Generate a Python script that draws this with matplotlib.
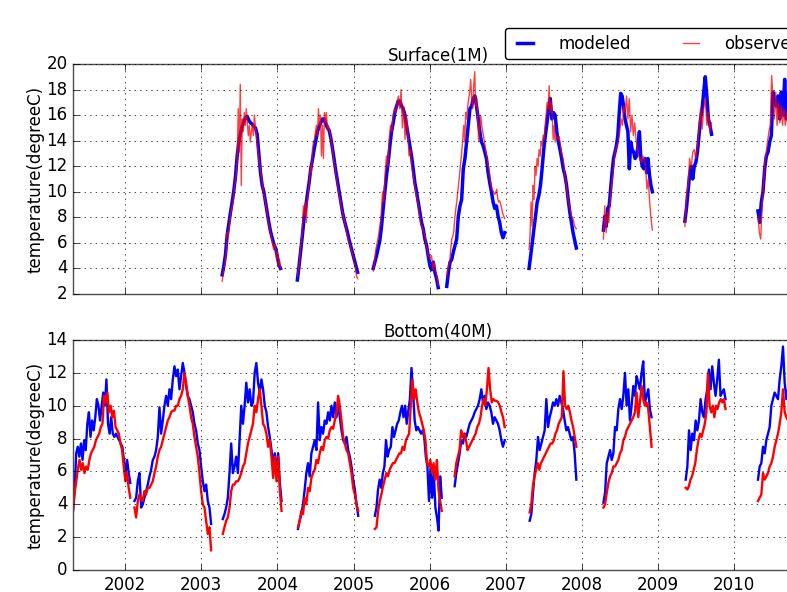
import matplotlib
matplotlib.use('Agg')
import matplotlib.pyplot as plt
import matplotlib.dates as mdates
import pandas as pd

plt.style.use('classic')
plt.rcParams['figure.facecolor'] = 'white'
plt.rcParams['savefig.facecolor'] = 'white'
plt.rcParams['font.family'] = ['DejaVu Sans']

# --- data: one (start, end) period and one value list per season ---
surface_periods = [
    ('2003-04-11', '2004-01-16'), ('2004-04-06', '2005-01-20'),
    ('2005-04-05', '2006-02-11'), ('2006-03-24', '2006-12-27'),
    ('2007-04-23', '2007-12-06'), ('2008-04-14', '2008-12-05'),
    ('2009-05-10', '2009-09-15'), ('2010-04-26', '2010-11-28'),
]
surface_modeled = [
    [3.5, 4.2, 5.1, 6.6, 7.5, 8.4, 9.2, 10.1, 11.2, 12.8, 13.9, 14.6, 15.1, 15.5, 15.8, 15.9, 15.6, 15.4,
     15.3, 15.1, 15.0, 14.5, 13.0, 11.5, 10.5, 10.0, 9.2, 8.4, 7.6, 6.9, 6.4, 5.9, 5.6, 5.0, 4.3, 4.0],
    [3.1, 4.2, 5.4, 6.6, 7.9, 8.8, 9.8, 10.7, 11.8, 12.5, 13.3, 14.0, 14.7, 15.1, 15.4, 15.7, 15.7, 15.3,
     15.0, 14.8, 14.2, 13.4, 12.5, 11.6, 10.8, 10.0, 9.2, 8.4, 7.8, 7.3, 6.8, 6.2, 5.7, 5.2, 4.7, 4.2, 3.7],
    [4.0, 4.5, 5.0, 5.6, 6.2, 7.3, 8.7, 10.0, 11.3, 12.3, 13.6, 14.7, 15.4, 16.2, 16.7, 17.1, 17.1, 16.7,
     16.5, 16.0, 15.2, 14.4, 13.6, 12.8, 11.8, 10.7, 10.0, 9.2, 8.4, 7.6, 7.1, 6.3, 5.8, 5.0, 4.2, 3.9,
     4.5, 3.7, 3.2, 2.5],
    [2.6, 3.7, 4.5, 4.7, 5.3, 5.8, 6.3, 8.1, 8.9, 9.4, 11.8, 12.6, 13.9, 15.2, 16.5, 16.7, 17.3, 17.5,
     16.7, 15.7, 14.7, 13.9, 13.6, 13.1, 12.6, 11.5, 10.7, 10.0, 9.2, 8.7, 8.9, 8.1, 7.6, 6.8, 6.4, 6.8],
    [4.0, 5.0, 6.0, 7.1, 8.1, 9.2, 9.7, 10.5, 11.8, 13.3, 14.4, 15.4, 16.5, 17.3, 15.7, 16.2, 16.0, 14.7,
     13.9, 13.3, 12.6, 11.8, 11.3, 10.5, 9.4, 8.4, 7.6, 6.8, 6.2, 5.6],
    [7.0, 8.1, 7.3, 8.7, 8.9, 10.2, 11.5, 12.6, 13.1, 13.6, 14.4, 16.2, 17.7, 17.5, 16.7, 15.7, 15.2, 14.7,
     11.8, 13.9, 13.3, 13.1, 12.6, 12.8, 13.6, 14.7, 12.6, 12.0, 11.8, 12.6, 11.5, 12.6, 11.3, 10.5, 10.0],
    [7.7, 8.7, 10.0, 11.3, 12.0, 11.0, 12.0, 12.3, 13.1, 14.4, 15.7, 16.5, 17.8, 19.0, 17.5, 15.7, 15.2, 14.5],
    [8.5, 7.6, 9.2, 10.0, 11.8, 12.8, 13.1, 13.9, 14.4, 17.8, 17.0, 16.7, 17.5, 15.7, 17.8, 16.0, 18.8, 15.7,
     17.0, 16.2, 17.4, 16.5, 15.8, 16.4, 15.6, 15.2, 15.9, 15.0],
]
surface_observed = [
    [3.0, 3.6, 4.0, 4.6, 5.2, 6.8, 6.4, 7.3, 7.9, 8.5, 8.9, 9.3, 10.2, 10.8, 11.5, 12.6, 16.5, 13.1, 18.4,
     10.5, 15.7, 14.7, 16.2, 15.2, 16.5, 15.4, 14.4, 15.2, 13.9, 14.7, 15.2, 14.4, 16.0, 15.2, 14.4, 13.6,
     13.1, 12.3, 11.8, 11.3, 10.6, 10.0, 9.5, 9.2, 8.6, 8.2, 7.6, 7.2, 6.8, 6.4, 6.0, 5.5, 5.9, 5.6, 4.7,
     5.3, 4.2, 4.7, 4.0],
    [3.4, 3.9, 4.4, 5.5, 6.2, 7.3, 8.9, 8.1, 9.2, 7.6, 9.4, 10.2, 10.7, 12.0, 11.5, 13.3, 13.9, 14.1, 14.7,
     15.2, 14.4, 16.5, 15.2, 16.0, 12.8, 15.2, 12.6, 16.2, 15.4, 16.2, 14.9, 15.2, 14.7, 14.4, 13.9, 13.3,
     12.6, 12.1, 11.6, 11.0, 10.5, 10.0, 9.6, 9.1, 8.7, 8.4, 8.0, 7.7, 7.3, 6.8, 6.5, 6.2, 5.9, 5.6, 5.4,
     5.1, 4.9, 4.4, 4.0, 3.4, 3.2],
    [3.8, 4.5, 5.5, 6.0, 6.6, 7.3, 8.2, 10.0, 9.2, 11.5, 12.8, 12.0, 14.0, 15.2, 14.7, 16.0, 16.5, 16.2,
     17.0, 17.5, 16.5, 18.0, 15.0, 16.7, 14.1, 16.0, 14.9, 12.8, 13.3, 12.0, 11.3, 10.7, 10.0, 9.5, 8.9,
     8.1, 7.4, 7.2, 6.9, 6.5, 5.8, 5.4, 4.9, 4.8, 5.0, 3.9, 4.5, 3.8, 3.4, 2.7],
    [3.4, 3.9, 4.3, 4.6, 5.5, 6.3, 6.5, 6.9, 7.9, 8.6, 9.2, 10.0, 10.7, 11.5, 12.3, 13.1, 14.1, 15.2, 13.9,
     16.2, 15.7, 16.7, 17.3, 17.8, 18.8, 17.3, 16.5, 18.3, 19.4, 16.7, 17.3, 15.7, 13.9, 15.2, 16.0, 15.2,
     14.7, 14.3, 13.8, 13.3, 12.8, 12.3, 11.9, 11.3, 10.7, 10.2, 10.1, 10.0, 9.8, 9.9, 10.2, 9.5, 9.2, 9.3,
     9.0, 8.7, 8.3, 8.1, 7.9],
    [5.5, 6.6, 9.2, 7.3, 10.5, 9.4, 12.0, 11.3, 12.6, 12.0, 13.3, 12.8, 13.9, 13.6, 14.4, 14.1, 15.2, 16.0,
     17.0, 16.5, 18.3, 16.2, 17.0, 16.0, 14.1, 15.2, 13.9, 14.4, 14.2, 14.1, 14.3, 13.8, 13.1, 12.8, 12.5,
     11.7, 11.1, 10.5, 9.9, 9.3, 9.0, 8.6, 8.1, 8.0, 7.8, 7.4, 7.2, 7.1],
    [6.3, 8.9, 6.8, 8.4, 7.6, 9.4, 10.5, 11.3, 12.6, 13.3, 13.6, 13.9, 14.7, 15.7, 15.2, 16.7, 16.2, 17.5,
     15.7, 17.3, 14.7, 16.0, 14.4, 15.4, 14.1, 13.3, 12.8, 12.6, 12.3, 12.8, 12.6, 12.0, 10.2, 11.0, 9.2,
     7.9, 7.0],
    [7.3, 9.7, 10.5, 12.6, 11.8, 13.1, 13.3, 12.6, 13.6, 14.9, 16.5, 14.9, 16.5, 17.3, 15.2, 16.2, 14.7, 15.4],
    [8.1, 6.8, 6.3, 8.9, 10.5, 12.3, 13.1, 13.9, 14.7, 15.2, 19.1, 17.3, 15.7, 17.8, 15.2, 17.0, 15.4, 16.7,
     15.2, 16.5, 15.2, 16.0, 16.8, 15.6, 16.4, 17.2, 15.8, 16.5, 15.3, 16.0, 15.5, 16.2, 15.1, 15.7],
]

bottom_periods = [
    ('2001-04-25', '2002-01-25'), ('2002-02-14', '2003-02-17'),
    ('2003-04-14', '2004-01-21'), ('2004-04-09', '2005-01-23'),
    ('2005-04-13', '2006-02-28'), ('2006-05-01', '2006-12-27'),
    ('2007-04-26', '2007-12-06'), ('2008-04-14', '2008-12-01'),
    ('2009-05-14', '2009-11-21'), ('2010-04-26', '2010-11-28'),
]
bottom_modeled = [
    [3.6, 4.9, 7.1, 7.5, 6.9, 7.7, 6.7, 7.9, 7.3, 8.9, 9.6, 8.1, 9.1, 8.5, 9.3, 10.4, 10.0, 9.1, 10.0,
     10.8, 10.0, 11.6, 8.9, 8.3, 9.3, 8.3, 8.1, 8.3, 8.1, 7.9, 7.7, 7.5, 6.7, 5.9, 6.7, 5.9, 5.3],
    [4.2, 4.4, 5.4, 5.9, 3.8, 4.0, 4.4, 4.8, 5.2, 5.7, 6.1, 6.7, 6.9, 7.3, 8.1, 9.9, 8.3, 9.1, 10.0, 10.6,
     10.0, 11.0, 10.4, 11.6, 12.4, 11.8, 12.2, 11.0, 11.8, 12.6, 12.0, 11.2, 10.6, 10.4, 10.0, 9.6, 8.9,
     8.5, 7.7, 7.3, 6.3, 5.4, 4.8, 5.2, 4.2, 3.8, 2.8],
    [3.1, 3.4, 3.8, 4.4, 5.9, 7.7, 5.9, 6.3, 6.9, 5.9, 7.9, 10.0, 8.9, 10.0, 11.4, 10.2, 11.0, 10.0, 10.2,
     12.0, 12.6, 11.4, 10.8, 11.6, 11.0, 10.0, 9.6, 8.7, 8.1, 7.3, 6.5, 7.1, 5.9, 7.1, 5.3, 4.2],
    [2.5, 3.0, 3.4, 4.0, 4.9, 5.9, 6.5, 5.7, 7.1, 7.5, 7.9, 7.3, 10.2, 7.9, 8.7, 8.3, 9.1, 8.9, 9.6, 9.1,
     10.0, 9.3, 10.2, 9.3, 10.0, 9.3, 8.5, 7.9, 7.7, 8.1, 7.3, 6.9, 6.3, 5.5, 4.9, 4.0, 3.3],
    [3.3, 3.8, 4.9, 5.5, 5.0, 5.9, 6.3, 7.9, 6.9, 7.3, 7.5, 8.7, 8.1, 8.5, 8.9, 9.1, 9.6, 10.0, 9.3, 10.0,
     8.9, 9.7, 10.4, 12.3, 10.8, 9.1, 8.5, 8.7, 8.5, 8.3, 8.5, 8.1, 6.9, 6.3, 4.2, 6.3, 4.4, 5.9, 3.8, 3.2,
     2.4, 5.7, 4.4],
    [5.1, 5.9, 6.5, 7.1, 7.9, 7.7, 8.3, 8.1, 8.5, 8.9, 9.1, 9.3, 9.6, 9.8, 10.0, 10.4, 11.0, 10.2, 10.6,
     9.8, 10.2, 10.0, 9.6, 8.9, 9.3, 9.1, 8.9, 8.5, 7.9, 7.5, 7.9],
    [3.0, 3.4, 4.7, 5.9, 6.7, 8.1, 7.3, 7.7, 8.1, 8.5, 10.4, 8.7, 9.3, 9.7, 10.2, 10.0, 10.4, 10.0, 10.6,
     10.2, 9.8, 9.1, 8.5, 8.7, 8.3, 7.9, 8.1, 7.1, 5.5],
    [4.1, 4.7, 6.5, 6.9, 7.3, 6.7, 7.1, 8.7, 8.5, 9.8, 10.4, 9.8, 10.6, 12.0, 10.0, 11.0, 9.1, 10.0, 11.2,
     10.6, 11.8, 11.4, 11.0, 12.0, 12.7, 10.2, 10.6, 11.0, 9.8, 9.3],
    [5.5, 6.3, 8.5, 7.3, 8.3, 7.9, 9.1, 8.5, 9.1, 10.4, 9.6, 9.3, 10.4, 11.0, 12.2, 11.0, 12.4, 11.4, 10.6,
     11.6, 12.8, 10.6, 10.8, 11.0, 10.4],
    [5.5, 6.3, 6.5, 7.5, 7.1, 7.9, 8.3, 8.7, 10.0, 10.4, 10.8, 10.6, 10.4, 11.6, 12.4, 13.6, 11.4, 10.4,
     11.0, 10.8, 11.2, 10.6, 10.2, 9.8, 10.1, 9.6, 9.9, 9.4],
]
bottom_observed = [
    [3.6, 4.7, 5.4, 6.2, 6.7, 6.1, 6.5, 5.9, 6.3, 6.1, 6.7, 7.1, 7.3, 7.5, 7.9, 8.1, 8.3, 8.7, 8.9, 10.6,
     10.2, 10.8, 9.6, 10.0, 9.3, 9.7, 8.7, 8.5, 8.3, 7.7, 7.3, 6.3, 5.4, 5.9, 5.0, 4.4],
    [3.8, 3.2, 4.2, 4.6, 4.4, 4.2, 4.8, 4.6, 5.0, 5.0, 5.2, 5.4, 5.9, 6.3, 6.9, 7.3, 7.5, 7.9, 8.3, 8.7,
     9.1, 9.3, 9.6, 9.7, 9.7, 10.0, 10.0, 10.4, 10.6, 11.0, 12.0, 11.4, 10.6, 10.0, 9.3, 8.9, 8.1, 7.5,
     6.9, 5.9, 4.8, 4.0, 3.8, 3.0, 2.2, 2.6, 1.2],
    [2.2, 2.6, 3.0, 3.2, 3.8, 4.8, 5.2, 5.2, 5.4, 5.4, 5.6, 5.9, 6.3, 6.5, 7.1, 7.7, 8.1, 8.5, 8.9, 10.0,
     9.6, 10.4, 11.0, 10.0, 8.9, 8.7, 8.3, 7.5, 7.9, 6.9, 5.6, 6.9, 5.4, 6.9, 4.8, 3.6],
    [2.6, 3.0, 3.6, 3.4, 4.4, 4.0, 5.0, 4.8, 5.6, 5.9, 6.1, 6.7, 6.5, 7.1, 7.5, 7.3, 7.9, 8.1, 8.0, 8.5,
     8.7, 8.6, 9.1, 9.6, 10.6, 10.0, 9.1, 8.1, 7.7, 7.3, 7.1, 6.5, 5.9, 5.0, 4.6, 4.0, 3.6],
    [2.5, 2.6, 3.6, 4.2, 4.6, 5.1, 5.5, 5.9, 5.7, 6.1, 6.3, 6.5, 6.5, 6.7, 6.9, 7.1, 7.1, 7.5, 7.3, 7.9,
     8.1, 8.3, 10.0, 11.6, 10.4, 11.0, 10.2, 9.6, 9.3, 8.9, 8.5, 7.9, 6.5, 6.3, 6.7, 5.9, 6.5, 5.5, 6.7,
     4.9, 4.2, 3.6],
    [5.7, 6.5, 6.9, 7.3, 8.5, 8.1, 8.3, 7.9, 7.3, 7.5, 7.7, 7.9, 8.1, 8.3, 8.7, 8.9, 9.3, 10.0, 10.4, 10.0,
     11.0, 12.3, 11.0, 10.2, 10.4, 10.3, 10.3, 10.2, 10.0, 9.6, 9.3, 8.7],
    [3.5, 4.0, 5.1, 5.7, 6.1, 6.5, 6.1, 6.5, 6.7, 6.9, 7.1, 7.3, 7.5, 7.7, 7.7, 7.9, 8.3, 8.5, 8.9, 9.1,
     9.3, 12.1, 10.0, 9.8, 10.0, 9.6, 9.1, 8.7, 8.1, 7.5],
    [3.8, 4.0, 4.7, 5.3, 5.7, 5.9, 6.3, 6.3, 6.5, 6.7, 7.1, 7.3, 7.9, 8.1, 8.5, 8.7, 8.9, 9.1, 9.3, 9.6,
     10.8, 9.3, 10.2, 11.2, 10.4, 10.0, 10.2, 9.8, 8.7, 7.5],
    [5.0, 4.9, 5.1, 5.5, 5.7, 6.1, 6.5, 7.3, 7.9, 8.3, 8.1, 8.5, 8.9, 9.6, 12.0, 10.0, 9.6, 10.0, 9.3, 10.0,
     9.8, 10.2, 10.4, 10.2, 10.4, 9.8],
    [4.2, 4.4, 4.6, 5.9, 5.5, 5.7, 5.9, 6.3, 6.5, 6.9, 7.5, 7.9, 8.3, 8.9, 9.6, 11.0, 9.6, 9.3, 9.1, 9.3,
     9.0, 8.8, 8.6, 8.9, 8.5, 8.7, 8.4, 8.6],
]

x_start, x_end = '2001-04-25', '2010-11-28'


def draw_panel(ax, periods, modeled, observed, mod_kw, obs_kw):
    for i, ((start, end), mv, ov) in enumerate(zip(periods, modeled, observed)):
        ax.plot(pd.date_range(start, end, periods=len(mv)), mv,
                label='modeled' if i == 0 else None, **mod_kw)
        ax.plot(pd.date_range(start, end, periods=len(ov)), ov,
                label='observed' if i == 0 else None, **obs_kw)


W, H = 787, 592
fig = plt.figure(figsize=(W / 100, H / 100), dpi=100)
# right edge of the axes runs past the canvas, like the cropped original
ax1 = fig.add_axes([73 / W, 1 - 294 / H, 730 / W, 230 / H])
ax2 = fig.add_axes([73 / W, 1 - 570 / H, 730 / W, 230 / H], sharex=ax1)

draw_panel(ax1, surface_periods, surface_modeled, surface_observed,
           dict(color='b', lw=2.5), dict(color='r', lw=1.0, alpha=0.75))
draw_panel(ax2, bottom_periods, bottom_modeled, bottom_observed,
           dict(color='b', lw=1.7), dict(color='r', lw=1.7))

ax1.set_ylim(2, 20)
ax1.set_yticks(range(2, 21, 2))
ax2.set_ylim(0, 14)
ax2.set_yticks(range(0, 15, 2))
ax1.set_xlim(pd.Timestamp(x_start), pd.Timestamp(x_end))

for ax in (ax1, ax2):
    ax.grid(True)
    ax.set_ylabel('temperature(degreeC)', fontsize=12, labelpad=1)
    ax.xaxis.set_major_locator(mdates.YearLocator())
    ax.xaxis.set_major_formatter(mdates.DateFormatter('%Y'))
    ax.tick_params(labelsize=12)
    for sp in ax.spines.values():
        sp.set_color('0.3')
plt.setp(ax1.get_xticklabels(), visible=False)

ax1.set_title('Surface(1M)', fontsize=12, pad=2)
ax2.set_title('Bottom(40M)', fontsize=12, pad=2)
ax2.set_xlabel('Year', fontsize=12)

ax1.legend(loc='upper left', bbox_to_anchor=(505 / W, 1 - 28 / H),
           bbox_transform=fig.transFigure, ncol=2, fancybox=True,
           borderaxespad=0, handlelength=1.6, handletextpad=1.2,
           columnspacing=2.8, fontsize=12)

fig.savefig('out.png', dpi=100)
